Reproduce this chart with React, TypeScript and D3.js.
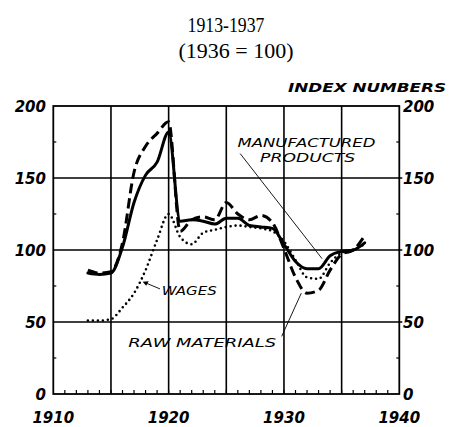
import React from "react";
import * as d3 from "d3";

const years = [1913,1914,1915,1916,1917,1918,1919,1920,1921,1922,1923,1924,1925,1926,1927,1928,1929,1930,1931,1932,1933,1934,1935,1936,1937];
const manufactured = [84,83,84,102,133,152,161,182,120,121,120,118,122,122,117,116,115,104,92,87,87,96,99,100,105];
const rawMaterials = [86,84,85,105,154,172,181,189,113,121,123,121,133,125,121,124,119,101,81,70,72,86,97,100,110];
const wages = [51,51,52,60,70,86,107,125,109,104,112,114,116,117,116,115,113,106,93,81,80,91,98,100,104];

const yTicks = [0, 50, 100, 150, 200];
const yMinor = [25, 75, 125, 175];
const xTicks = [1910, 1920, 1930, 1940];
const xGrid = [1915, 1920, 1925, 1930, 1935];
const xMinor = d3.range(1911, 1940);

const W = 454, H = 427;
const LBL = "'DejaVu Sans', sans-serif";

export default function App() {
  const x = d3.scaleLinear().domain([1910, 1940]).range([53.3, 399.3]);
  const y = d3.scaleLinear().domain([0, 200]).range([394, 106]);
  const mk = (vals: number[]) =>
    d3.line<number>().x((_, i) => x(years[i])).y((v) => y(v)).curve(d3.curveMonotoneX)(vals) || "";

  return (
    <svg width={W} height={H} style={{ position: "absolute", left: 0, top: 0, background: "#fff" }}>
      <text x={226} y={32} textAnchor="middle" fontFamily="'Liberation Serif', serif" fontSize={21} textLength={77} lengthAdjust="spacingAndGlyphs">1913-1937</text>
      <text x={236} y={58} textAnchor="middle" fontFamily="'Liberation Serif', serif" fontSize={21} textLength={115} lengthAdjust="spacingAndGlyphs">(1936 = 100)</text>
      <text x={446} y={92} textAnchor="end" fontFamily={LBL} fontWeight="bold" fontStyle="italic" fontSize={13} textLength={158} lengthAdjust="spacingAndGlyphs">INDEX NUMBERS</text>

      {/* grid */}
      {[50, 100, 150].map((v) => (
        <line key={"h" + v} x1={x(1910)} x2={x(1940) + 3} y1={y(v)} y2={y(v)} stroke="#000" strokeWidth={1.6} />
      ))}
      {xGrid.map((t) => (
        <line key={"v" + t} x1={x(t)} x2={x(t)} y1={y(200)} y2={y(0)} stroke="#000" strokeWidth={1.6} />
      ))}
      {/* frame */}
      <rect x={x(1910)} y={y(200)} width={x(1940) - x(1910)} height={y(0) - y(200)} fill="none" stroke="#000" strokeWidth={1.8} />
      {xMinor.map((t) => (
        <line key={"mx" + t} x1={x(t)} x2={x(t)} y1={y(0)} y2={y(0) - 4} stroke="#000" strokeWidth={1.2} />
      ))}
      {yMinor.map((v) => (
        <g key={"my" + v}>
          <line x1={x(1910)} x2={x(1910) + 3} y1={y(v)} y2={y(v)} stroke="#000" strokeWidth={1.2} />
          <line x1={x(1940)} x2={x(1940) - 3} y1={y(v)} y2={y(v)} stroke="#000" strokeWidth={1.2} />
        </g>
      ))}

      {/* tick labels */}
      {yTicks.map((v) => (
        <g key={"yl" + v} fontFamily={LBL} fontWeight="bold" fontStyle="italic" fontSize={15}>
          <text x={46} y={y(v) + 6} textAnchor="end">{v}</text>
          <text x={403} y={y(v) + 6} textAnchor="start">{v}</text>
        </g>
      ))}
      {xTicks.map((t) => (
        <text key={"xl" + t} x={x(t)} y={423} textAnchor="middle" fontFamily={LBL} fontWeight="bold" fontStyle="italic" fontSize={15}>{t}</text>
      ))}

      {/* series */}
      <path d={mk(wages)} fill="none" stroke="#000" strokeWidth={2.6} strokeDasharray="0 5" strokeLinecap="round" />
      <path d={mk(rawMaterials)} fill="none" stroke="#000" strokeWidth={3} strokeDasharray="10 5" />
      <path d={mk(manufactured)} fill="none" stroke="#000" strokeWidth={3} strokeLinecap="round" />

      {/* annotations */}
      <g fontFamily={LBL} fontStyle="italic" fontSize={12}>
        <text x={x(1931.95)} y={y(175) + 5} textAnchor="middle" textLength={138} lengthAdjust="spacingAndGlyphs">MANUFACTURED</text>
        <text x={x(1932.05)} y={y(164.5) + 5} textAnchor="middle" textLength={95} lengthAdjust="spacingAndGlyphs">PRODUCTS</text>
        <line x1={x(1926.2)} y1={y(167)} x2={x(1933.3)} y2={y(94)} stroke="#000" strokeWidth={0.9} />
        <text x={x(1919.4)} y={y(72) + 5} textAnchor="start" textLength={55} lengthAdjust="spacingAndGlyphs">WAGES</text>
        <line x1={x(1919.25)} y1={y(73)} x2={x(1917.9)} y2={y(77.5)} stroke="#000" strokeWidth={0.9} />
        <path d={`M${x(1917.75)},${y(78)} l6,-0.5 l-2.5,4.5 z`} fill="#000" />
        <text x={x(1916.5)} y={y(36) + 5} textAnchor="start" textLength={148} lengthAdjust="spacingAndGlyphs">RAW MATERIALS</text>
        <line x1={x(1929.8)} y1={y(40)} x2={x(1931.5)} y2={y(70)} stroke="#000" strokeWidth={0.9} />
      </g>
    </svg>
  );
}
